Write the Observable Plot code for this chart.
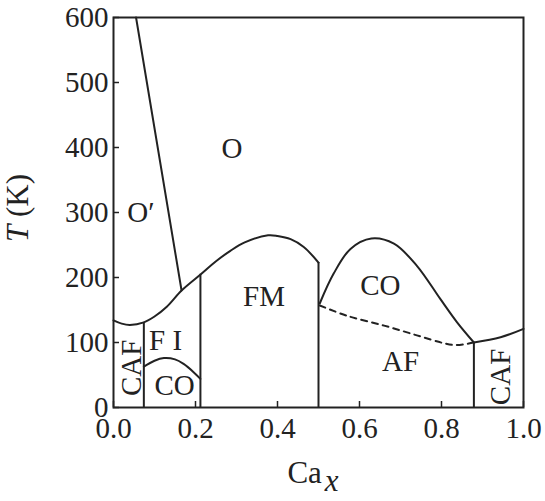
<!DOCTYPE html>
<html><head><meta charset="utf-8">
<script src="https://cdn.jsdelivr.net/npm/d3@7"></script>
<script src="https://cdn.jsdelivr.net/npm/@observablehq/plot@0.6"></script>
<style>body{margin:0;background:#fff;} svg{display:block}</style>
</head><body><div id="chart"></div>
<script>
// tick values
const xTicks = [0, 0.2, 0.4, 0.6, 0.8, 1.0];
const yTicks = [0, 100, 200, 300, 400, 500, 600];

// main boundary (O / O' above, FM etc. below)
const mainX = [0, 0.02, 0.04, 0.074, 0.10, 0.13, 0.166, 0.213, 0.25, 0.285, 0.32, 0.377, 0.40, 0.432, 0.464, 0.5];
const mainT = [134, 129, 127, 131, 140, 155, 180, 205, 225, 241, 254, 265, 264, 259, 247, 223];

// O' / O boundary
const oPrimeX = [0.055, 0.166];
const oPrimeT = [600, 180];

// charge-ordered dome (right)
const coRightX = [0.503, 0.537, 0.578, 0.629, 0.684, 0.74, 0.797, 0.838, 0.879];
const coRightT = [160, 206, 244, 260, 252, 218, 167, 131, 100];

// dashed AF boundary
const afDashX = [0.503, 0.57, 0.66, 0.74, 0.805, 0.838, 0.879];
const afDashT = [157, 141, 126, 111, 99, 96, 100];

// right CAF boundary
const cafRightX = [0.879, 0.944, 1.0];
const cafRightT = [100, 108, 121];

// small charge-ordered dome (left)
const coLeftX = [0.074, 0.10, 0.123, 0.15, 0.171, 0.196, 0.212];
const coLeftT = [63, 72, 76, 74, 67, 54, 44];

// vertical phase boundaries
const vertX = [0.074, 0.212, 0.5, 0.879];
const vertTop = [131, 205, 223, 100];

// region labels
const labelText = ["O", "O\u2032", "FM", "CO", "F I", "CO", "AF"];
const labelX = [0.289, 0.067, 0.367, 0.651, 0.127, 0.149, 0.70];
const labelT = [398, 300, 171, 188, 103, 34, 70];

const rotText = ["CAF", "CAF"];
const rotX = [0.044, 0.944];
const rotT = [61, 47];

const ink = "#222";
const font = "Liberation Serif";
const fs = 29;

const pts = (xs, ts) => xs.map((x, i) => ({x, t: ts[i]}));

const plot = Plot.plot({
  width: 545, height: 501,
  marginLeft: 113, marginRight: 22, marginTop: 17, marginBottom: 94,
  x: {domain: [0, 1]},
  y: {domain: [0, 600]},
  style: {fontFamily: font, fontSize: fs + "px", color: ink, background: "white", overflow: "visible"},
  marks: [
    Plot.axisX(xTicks, {tickSize: 0, tickPadding: 10, tickFormat: d3.format(".1f"), label: null, fontFamily: font, fontSize: fs, fill: ink}),
    Plot.axisX(xTicks, {tickSize: 6, dy: -6, tickFormat: () => "", label: null, strokeWidth: 1.5}),
    Plot.axisY(yTicks, {tickSize: 0, tickPadding: 5, label: null, fontFamily: font, fontSize: fs, fill: ink}),
    Plot.axisY(yTicks, {tickSize: 6, dx: 6, tickFormat: () => "", label: null, strokeWidth: 1.5}),
    Plot.ruleX(vertX.map((x, i) => ({x, top: vertTop[i]})), {x: "x", y1: 0, y2: "top", stroke: ink, strokeWidth: 2}),
    Plot.line(pts(mainX, mainT), {x: "x", y: "t", curve: "catmull-rom", stroke: ink, strokeWidth: 2}),
    Plot.line(pts(oPrimeX, oPrimeT), {x: "x", y: "t", stroke: ink, strokeWidth: 2}),
    Plot.line(pts(coRightX, coRightT), {x: "x", y: "t", curve: "catmull-rom", stroke: ink, strokeWidth: 2}),
    Plot.line(pts(afDashX, afDashT), {x: "x", y: "t", curve: "catmull-rom", stroke: ink, strokeWidth: 2, strokeDasharray: "6,5"}),
    Plot.line(pts(cafRightX, cafRightT), {x: "x", y: "t", curve: "catmull-rom", stroke: ink, strokeWidth: 2}),
    Plot.line(pts(coLeftX, coLeftT), {x: "x", y: "t", curve: "catmull-rom", stroke: ink, strokeWidth: 2}),
    Plot.text(labelText.map((s, i) => ({s, x: labelX[i], t: labelT[i]})), {x: "x", y: "t", text: "s", fontFamily: font, fontSize: fs, fill: ink}),
    Plot.text(rotText.map((s, i) => ({s, x: rotX[i], t: rotT[i]})), {x: "x", y: "t", text: "s", fontFamily: font, fontSize: fs, fill: ink, rotate: -90}),
    Plot.frame({stroke: ink, strokeWidth: 2})
  ]
});

const svg = d3.select(plot);
const xs = plot.scale("x"), ys = plot.scale("y");
const xMid = (xs.range[0] + xs.range[1]) / 2;
const yMid = (ys.range[0] + ys.range[1]) / 2;

const xl = svg.append("text")
  .attr("x", xMid - 5).attr("y", 483)
  .attr("text-anchor", "middle")
  .attr("font-family", font).attr("font-size", 31).attr("fill", ink);
xl.append("tspan").text("Ca");
xl.append("tspan").attr("dx", 3).attr("dy", 8).attr("font-style", "italic").text("x");

const yl = svg.append("text")
  .attr("transform", `translate(28,${yMid - 4}) rotate(-90)`)
  .attr("text-anchor", "middle")
  .attr("font-family", font).attr("font-size", 31).attr("fill", ink);
yl.append("tspan").attr("font-style", "italic").text("T");
yl.append("tspan").text(" (K)");

document.getElementById("chart").append(plot);
</script>
</body></html>
